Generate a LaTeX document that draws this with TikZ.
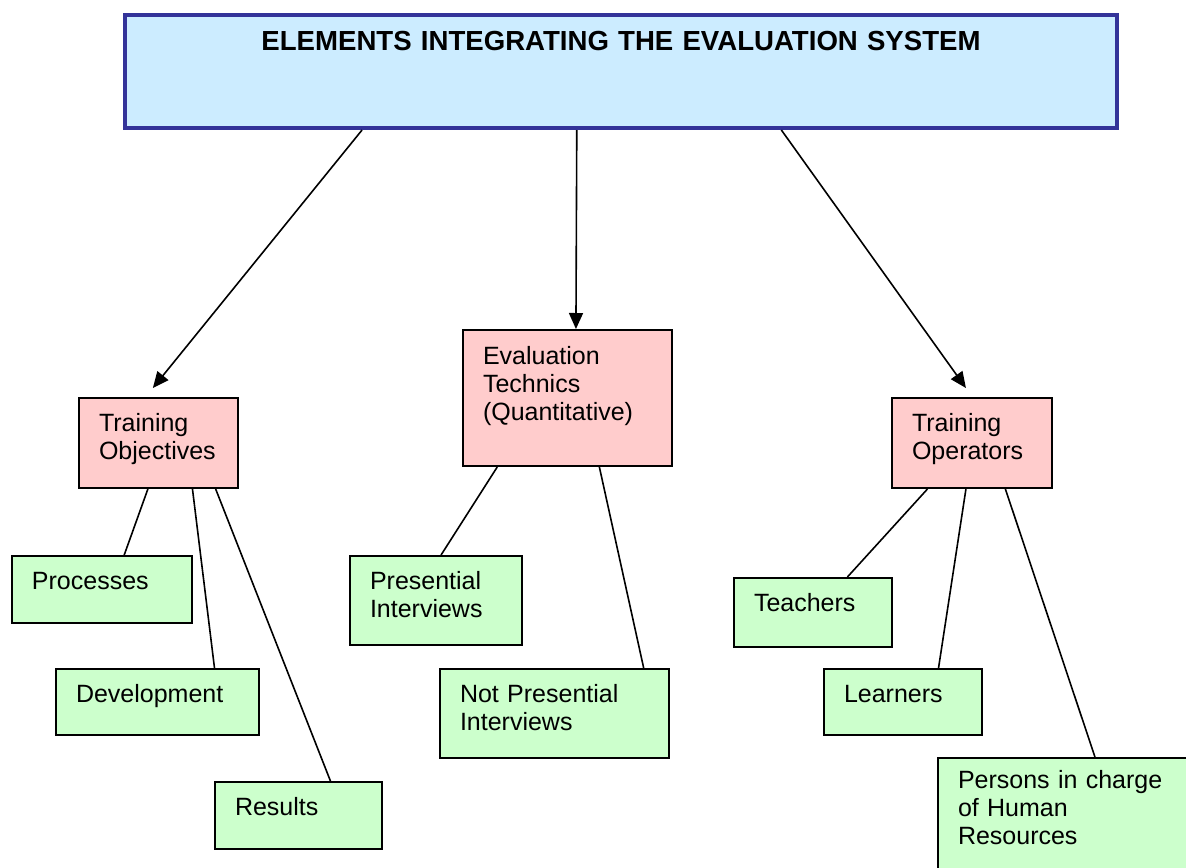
\documentclass[tikz,border=0pt]{standalone}
\usepackage{fontspec}
\setmainfont{Liberation Sans}
\usetikzlibrary{arrows.meta,calc,positioning}

\definecolor{headblue}{HTML}{CCECFF}
\definecolor{headline}{HTML}{333399}
\definecolor{mainpink}{HTML}{FFCCCC}
\definecolor{subgreen}{HTML}{CCFFCC}

\begin{document}
\begin{tikzpicture}[x=0.5pt, y=-0.5pt, font=\fontsize{12.5}{14}\selectfont,
    box/.style={draw, line width=1pt, anchor=north west, align=left,
        inner xsep=10pt, inner ysep=0pt, text height=16.5pt},
    main/.style={box, fill=mainpink},
    sub/.style={box, fill=subgreen},
    link/.style={line width=0.8pt},]

\useasboundingbox (0,0) rectangle (1186,867);
\clip (0,0) rectangle (1186,867);

% heading box
\node[draw=headline, line width=2pt, fill=headblue, anchor=north west,
    align=center, inner sep=0pt, text width=496pt, text height=17.5pt,
    text depth=39pt, font=\fontsize{13.8}{16}\selectfont\bfseries] (sys) at (123,13)
    {ELEMENTS INTEGRATING THE EVALUATION SYSTEM};

% second level
\node[main, text width=59.5pt, text depth=28.5pt] (obj) at (78,397) {Training\\Objectives};
\node[main, text width=84.5pt, text height=17pt, text depth=51pt] (eval) at (462,329)
    {Evaluation\\Technics\\(Quantitative)};
\node[main, text width=60pt, text depth=28.5pt] (ops) at (891,397) {Training\\Operators};

% leaves
\node[sub, text width=70pt, text depth=17pt] (proc) at (11,555) {Processes};
\node[sub, text width=81.5pt, text depth=16.5pt] (dev) at (55,668) {Development};
\node[sub, text width=63.5pt, text depth=17pt] (res) at (214,781) {Results};
\node[sub, text width=66pt, text depth=28pt] (pres) at (349,555) {Presential\\Interviews};
\node[sub, text width=94.5pt, text depth=28pt] (notp) at (439,668) {Not Presential\\Interviews};
\node[sub, text width=59pt, text depth=18pt] (teach) at (733,577) {Teachers};
\node[sub, text width=59pt, text depth=16.5pt] (learn) at (823,668) {Learners};
\node[sub, text width=130pt, text height=15pt, text depth=50pt] (pers) at (937,757)
    {Persons in charge\\of Human\\Resources};

% arrows out of the heading
\foreach \f/\t/\g/\d in {.240/obj/.465/9, .4556/eval/.54/0, .661/ops/.4625/9}
    \draw[link, -{Triangle[length=8pt,width=7pt]}]
        ($(sys.south west)!\f!(sys.south east)$) --
        ($(\t.north west)!\g!(\t.north east)+(0,-\d)$);

% plain lines down to the leaves
\foreach \p/\f/\c/\g in {obj/.434/proc/.622, obj/.711/dev/.778, obj/.855/res/.689,
    eval/.167/pres/.529, eval/.651/notp/.886,
    ops/.225/teach/.715, ops/.4625/learn/.722, ops/.706/pers/.523}
    \draw[link] ($(\p.south west)!\f!(\p.south east)$) --
        ($(\c.north west)!\g!(\c.north east)$);

\end{tikzpicture}
\end{document}
